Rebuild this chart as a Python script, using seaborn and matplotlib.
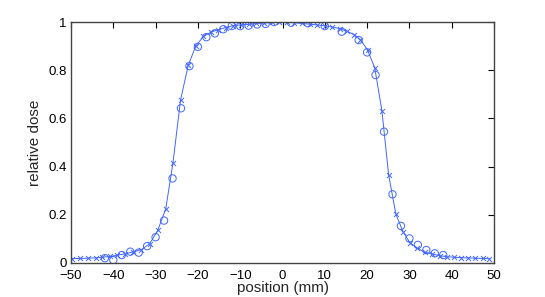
import matplotlib
matplotlib.use("Agg")
import matplotlib.pyplot as plt
import seaborn as sns
import pandas as pd

# measured profile (x markers + line)
meas_pos = [-49.8, -47.9, -46.1, -44.2, -42.6, -40.8, -39.2, -37.2, -35.3, -33.4,
            -31.4, -29.5, -27.6, -25.9, -24.1, -22.3, -20.5, -18.7, -16.9, -15.2,
            -13.4, -11.6, -9.8, -8.0, -6.2, -4.4, -2.6, -0.8, 1.0, 2.8,
            4.6, 6.4, 8.2, 10.0, 11.8, 13.5, 15.2, 16.9, 18.4, 20.1,
            21.8, 23.5, 25.1, 26.8, 28.5, 30.1, 31.8, 33.6, 35.4, 37.2,
            38.9, 40.5, 42.2, 43.9, 45.6, 47.3, 48.9]
meas_dose = [0.018, 0.019, 0.020, 0.021, 0.024, 0.027, 0.032, 0.038, 0.046, 0.055,
             0.080, 0.135, 0.225, 0.415, 0.676, 0.820, 0.900, 0.940, 0.958, 0.968,
             0.977, 0.985, 0.988, 0.990, 0.994, 0.996, 0.998, 0.998, 0.998, 0.997,
             0.994, 0.991, 0.988, 0.984, 0.979, 0.973, 0.962, 0.948, 0.927, 0.884,
             0.810, 0.632, 0.365, 0.203, 0.130, 0.085, 0.062, 0.045, 0.037, 0.030,
             0.026, 0.024, 0.022, 0.021, 0.020, 0.019, 0.018]

# calculated profile (o markers)
calc_pos = [-42, -40, -38, -36, -34, -32, -30, -28, -26, -24, -22, -20, -18, -16,
            -14, -12, -10, -8, -6, -4, -2, 2, 6, 10, 14, 18, 20, 22, 24, 26,
            28, 30, 32, 34, 36, 38]
calc_dose = [0.020, 0.012, 0.033, 0.047, 0.043, 0.070, 0.107, 0.176, 0.351, 0.642,
             0.817, 0.897, 0.937, 0.953, 0.970, 0.983, 0.983, 0.985, 0.990, 0.992,
             1.000, 0.997, 0.995, 0.983, 0.960, 0.925, 0.874, 0.780, 0.545, 0.285,
             0.154, 0.102, 0.075, 0.054, 0.040, 0.033]

x_ticks = [-50, -40, -30, -20, -10, 0, 10, 20, 30, 40, 50]
y_ticks = [0, 0.2, 0.4, 0.6, 0.8, 1]
y_tick_labels = ["0", "0.2", "0.4", "0.6", "0.8", "1"]

sns.set_style("white")
plt.rcParams['font.family'] = ['Liberation Sans', 'DejaVu Sans']

meas = pd.DataFrame({"position": meas_pos, "dose": meas_dose})
calc = pd.DataFrame({"position": calc_pos, "dose": calc_dose})

fig = plt.figure(figsize=(5.45, 2.97), dpi=100)
ax = fig.add_axes([0.1303, 0.1145, 0.7761, 0.8114])

blue = (0.25, 0.4, 1.0)
sns.lineplot(data=meas, x="position", y="dose", ax=ax, color=blue, linewidth=0.7,
             estimator=None, sort=False)
sns.scatterplot(data=meas, x="position", y="dose", ax=ax, marker="x", color=blue,
                s=13, linewidth=0.7)
sns.scatterplot(data=calc, x="position", y="dose", ax=ax, marker="o",
                facecolor="none", edgecolor=blue, s=28, linewidth=0.7)

ax.set_xlim(-50, 50)
ax.set_ylim(0, 1)
ax.set_xticks(x_ticks)
ax.set_xticklabels([("\u2212" if v < 0 else "") + str(abs(v)) for v in x_ticks])
ax.set_yticks(y_ticks)
ax.set_yticklabels(y_tick_labels)
ax.tick_params(direction="in", top=True, right=True, length=4, width=0.8,
               labelsize=9.5, colors="black", pad=3)
ax.tick_params(axis="x", pad=5)
for sp in ax.spines.values():
    sp.set_visible(True)
    sp.set_color("#444444")
    sp.set_linewidth(1.0)
ax.set_xlabel("position (mm)", fontsize=11, labelpad=-1)
ax.set_ylabel("relative dose", fontsize=11, labelpad=5)

fig.savefig("out.png", dpi=100)
